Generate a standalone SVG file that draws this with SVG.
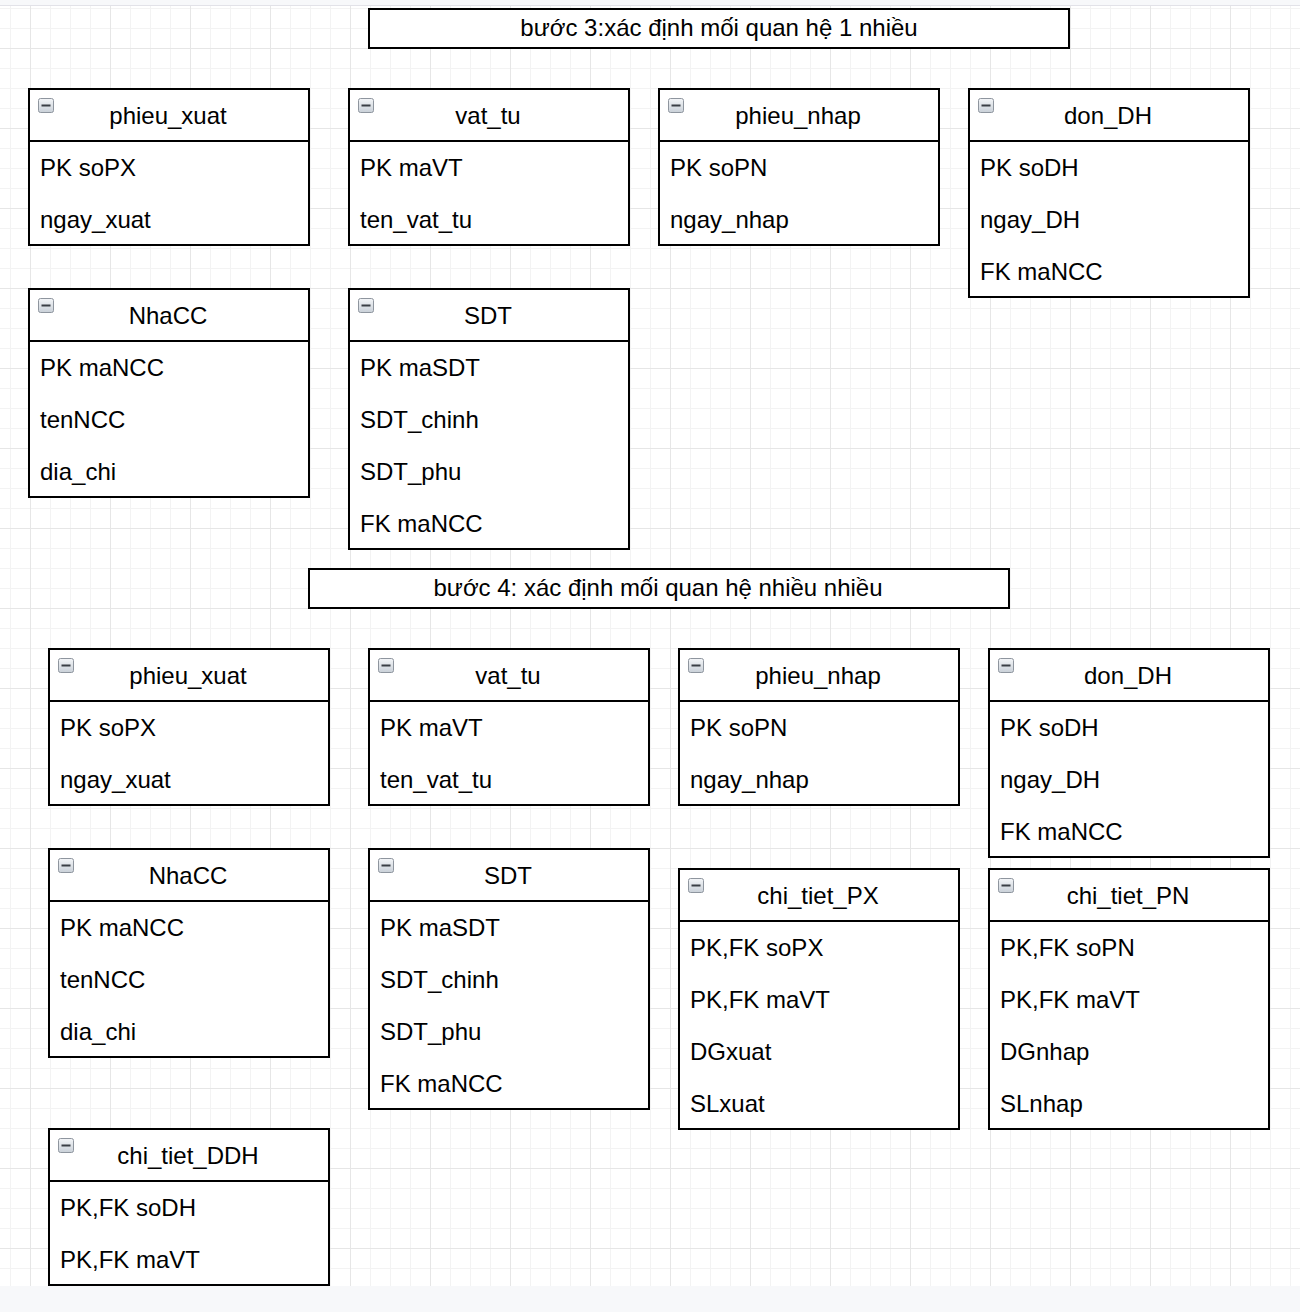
<svg xmlns="http://www.w3.org/2000/svg" xmlns:xlink="http://www.w3.org/1999/xlink" width="1300" height="1312" viewBox="0 0 1300 1312">
<style>
.box{fill:#ffffff;stroke:#000000;stroke-width:2}
.sep{stroke:#000000;stroke-width:2}
.t{font-family:"Liberation Sans",Arial,Helvetica,sans-serif;font-size:24px;fill:#000000}
.h{text-anchor:middle}
.title{text-anchor:middle}
</style>
<defs>
<pattern id="grid" patternUnits="userSpaceOnUse" x="30" y="48" width="80" height="80">
<rect width="80" height="80" fill="#ffffff"/>
<path d="M20.5 0V80M40.5 0V80M60.5 0V80M0 20.5H80M0 40.5H80M0 60.5H80" stroke="#f3f3f3" stroke-width="1"/>
<path d="M0.5 0V80M0 0.5H80" stroke="#e6e6e6" stroke-width="1"/>
</pattern>
<linearGradient id="ig" x1="0" y1="0" x2="0" y2="1">
<stop offset="0" stop-color="#f4f6f8"/>
<stop offset="1" stop-color="#c9d0d8"/>
</linearGradient>
<g id="icon">
<rect x="0.5" y="0.5" width="15" height="14" rx="2" fill="url(#ig)" stroke="#8e959e" stroke-width="1"/>
<rect x="3.5" y="6.5" width="9" height="2" fill="#3a3f45"/>
</g>
</defs>
<rect x="0" y="0" width="1300" height="1312" fill="#f7f8fa"/>
<rect x="0" y="6" width="1300" height="1280" fill="url(#grid)"/>
<line x1="0" y1="5.5" x2="1300" y2="5.5" stroke="#e2e2e8" stroke-width="1"/>

<g id="title1">
<rect class="box" x="369" y="9" width="700" height="39"/>
<text class="t title" x="719" y="36">bước 3:xác định mối quan hệ 1 nhiều</text>
</g>
<g id="title2">
<rect class="box" x="309" y="569" width="700" height="39"/>
<text class="t title" x="658" y="596" textLength="449" lengthAdjust="spacingAndGlyphs">bước 4: xác định mối quan hệ nhiều nhiều</text>
</g>

<g id="s3_phieu_xuat" transform="translate(29,89)">
<rect class="box" width="280" height="156"/><line class="sep" x1="0" y1="52" x2="280" y2="52"/>
<use xlink:href="#icon" x="9" y="9"/>
<text class="t h" x="139" y="35">phieu_xuat</text>
<text class="t" x="11" y="87">PK soPX</text>
<text class="t" x="11" y="139">ngay_xuat</text>
</g>
<g id="s3_vat_tu" transform="translate(349,89)">
<rect class="box" width="280" height="156"/><line class="sep" x1="0" y1="52" x2="280" y2="52"/>
<use xlink:href="#icon" x="9" y="9"/>
<text class="t h" x="139" y="35">vat_tu</text>
<text class="t" x="11" y="87">PK maVT</text>
<text class="t" x="11" y="139">ten_vat_tu</text>
</g>
<g id="s3_phieu_nhap" transform="translate(659,89)">
<rect class="box" width="280" height="156"/><line class="sep" x1="0" y1="52" x2="280" y2="52"/>
<use xlink:href="#icon" x="9" y="9"/>
<text class="t h" x="139" y="35">phieu_nhap</text>
<text class="t" x="11" y="87">PK soPN</text>
<text class="t" x="11" y="139">ngay_nhap</text>
</g>
<g id="s3_don_DH" transform="translate(969,89)">
<rect class="box" width="280" height="208"/><line class="sep" x1="0" y1="52" x2="280" y2="52"/>
<use xlink:href="#icon" x="9" y="9"/>
<text class="t h" x="139" y="35">don_DH</text>
<text class="t" x="11" y="87">PK soDH</text>
<text class="t" x="11" y="139">ngay_DH</text>
<text class="t" x="11" y="191">FK maNCC</text>
</g>
<g id="s3_NhaCC" transform="translate(29,289)">
<rect class="box" width="280" height="208"/><line class="sep" x1="0" y1="52" x2="280" y2="52"/>
<use xlink:href="#icon" x="9" y="9"/>
<text class="t h" x="139" y="35">NhaCC</text>
<text class="t" x="11" y="87">PK maNCC</text>
<text class="t" x="11" y="139">tenNCC</text>
<text class="t" x="11" y="191">dia_chi</text>
</g>
<g id="s3_SDT" transform="translate(349,289)">
<rect class="box" width="280" height="260"/><line class="sep" x1="0" y1="52" x2="280" y2="52"/>
<use xlink:href="#icon" x="9" y="9"/>
<text class="t h" x="139" y="35">SDT</text>
<text class="t" x="11" y="87">PK maSDT</text>
<text class="t" x="11" y="139">SDT_chinh</text>
<text class="t" x="11" y="191">SDT_phu</text>
<text class="t" x="11" y="243">FK maNCC</text>
</g>

<g id="s4_phieu_xuat" transform="translate(49,649)">
<rect class="box" width="280" height="156"/><line class="sep" x1="0" y1="52" x2="280" y2="52"/>
<use xlink:href="#icon" x="9" y="9"/>
<text class="t h" x="139" y="35">phieu_xuat</text>
<text class="t" x="11" y="87">PK soPX</text>
<text class="t" x="11" y="139">ngay_xuat</text>
</g>
<g id="s4_vat_tu" transform="translate(369,649)">
<rect class="box" width="280" height="156"/><line class="sep" x1="0" y1="52" x2="280" y2="52"/>
<use xlink:href="#icon" x="9" y="9"/>
<text class="t h" x="139" y="35">vat_tu</text>
<text class="t" x="11" y="87">PK maVT</text>
<text class="t" x="11" y="139">ten_vat_tu</text>
</g>
<g id="s4_phieu_nhap" transform="translate(679,649)">
<rect class="box" width="280" height="156"/><line class="sep" x1="0" y1="52" x2="280" y2="52"/>
<use xlink:href="#icon" x="9" y="9"/>
<text class="t h" x="139" y="35">phieu_nhap</text>
<text class="t" x="11" y="87">PK soPN</text>
<text class="t" x="11" y="139">ngay_nhap</text>
</g>
<g id="s4_don_DH" transform="translate(989,649)">
<rect class="box" width="280" height="208"/><line class="sep" x1="0" y1="52" x2="280" y2="52"/>
<use xlink:href="#icon" x="9" y="9"/>
<text class="t h" x="139" y="35">don_DH</text>
<text class="t" x="11" y="87">PK soDH</text>
<text class="t" x="11" y="139">ngay_DH</text>
<text class="t" x="11" y="191">FK maNCC</text>
</g>
<g id="s4_NhaCC" transform="translate(49,849)">
<rect class="box" width="280" height="208"/><line class="sep" x1="0" y1="52" x2="280" y2="52"/>
<use xlink:href="#icon" x="9" y="9"/>
<text class="t h" x="139" y="35">NhaCC</text>
<text class="t" x="11" y="87">PK maNCC</text>
<text class="t" x="11" y="139">tenNCC</text>
<text class="t" x="11" y="191">dia_chi</text>
</g>
<g id="s4_SDT" transform="translate(369,849)">
<rect class="box" width="280" height="260"/><line class="sep" x1="0" y1="52" x2="280" y2="52"/>
<use xlink:href="#icon" x="9" y="9"/>
<text class="t h" x="139" y="35">SDT</text>
<text class="t" x="11" y="87">PK maSDT</text>
<text class="t" x="11" y="139">SDT_chinh</text>
<text class="t" x="11" y="191">SDT_phu</text>
<text class="t" x="11" y="243">FK maNCC</text>
</g>
<g id="s4_chi_tiet_PX" transform="translate(679,869)">
<rect class="box" width="280" height="260"/><line class="sep" x1="0" y1="52" x2="280" y2="52"/>
<use xlink:href="#icon" x="9" y="9"/>
<text class="t h" x="139" y="35">chi_tiet_PX</text>
<text class="t" x="11" y="87">PK,FK soPX</text>
<text class="t" x="11" y="139">PK,FK maVT</text>
<text class="t" x="11" y="191">DGxuat</text>
<text class="t" x="11" y="243">SLxuat</text>
</g>
<g id="s4_chi_tiet_PN" transform="translate(989,869)">
<rect class="box" width="280" height="260"/><line class="sep" x1="0" y1="52" x2="280" y2="52"/>
<use xlink:href="#icon" x="9" y="9"/>
<text class="t h" x="139" y="35">chi_tiet_PN</text>
<text class="t" x="11" y="87">PK,FK soPN</text>
<text class="t" x="11" y="139">PK,FK maVT</text>
<text class="t" x="11" y="191">DGnhap</text>
<text class="t" x="11" y="243">SLnhap</text>
</g>
<g id="s4_chi_tiet_DDH" transform="translate(49,1129)">
<rect class="box" width="280" height="156"/><line class="sep" x1="0" y1="52" x2="280" y2="52"/>
<use xlink:href="#icon" x="9" y="9"/>
<text class="t h" x="139" y="35">chi_tiet_DDH</text>
<text class="t" x="11" y="87">PK,FK soDH</text>
<text class="t" x="11" y="139">PK,FK maVT</text>
</g>
<g id="connectors"></g>
</svg>
